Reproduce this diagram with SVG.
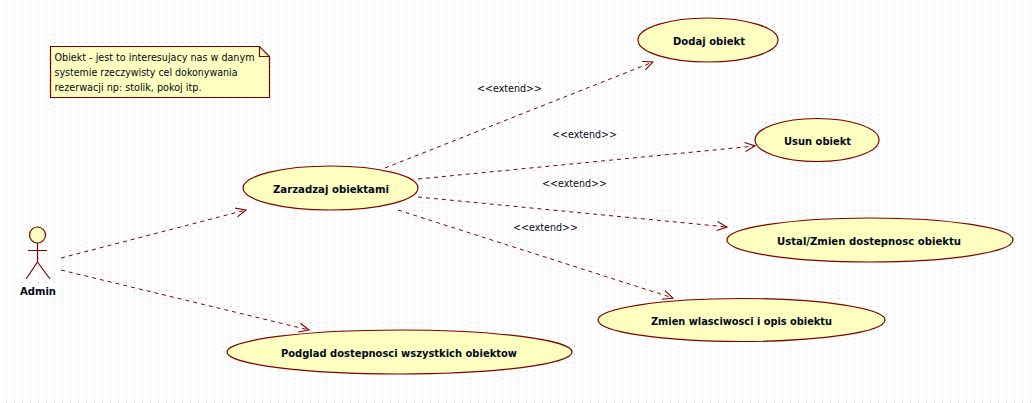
<svg xmlns="http://www.w3.org/2000/svg" width="1034" height="403" viewBox="0 0 1034 403">
<style>
.shape{fill:#ffffbf;stroke:#800000;stroke-width:1.2}
.ink{fill:none;stroke:#800000;stroke-width:1.2}
.dep{fill:none;stroke:#800000;stroke-width:1;stroke-dasharray:4 4;marker-end:url(#open)}
text{font-family:"DejaVu Sans","Noto Sans",sans-serif;fill:#000820}
.uc{font-size:11px;font-weight:700}
.plain{font-size:11px}
</style>
<defs>
<pattern id="dots" width="8" height="8" patternUnits="userSpaceOnUse"><rect x="6" y="2" width="1" height="1" fill="#c0c0c0"/></pattern>
<marker id="open" viewBox="-12 -6 13 12" refX="0" refY="0" markerWidth="13" markerHeight="12" markerUnits="userSpaceOnUse" orient="auto"><path d="M-10 -4.500L0 0L-10 4.500" fill="none" stroke="#800000" stroke-width="1.100"/></marker>
</defs>
<rect width="1034" height="403" fill="#fff"/>
<rect width="1034" height="403" fill="url(#dots)"/>
<g id="connectors">
<line class="dep" x1="61" y1="258" x2="246" y2="210"/>
<line class="dep" x1="61" y1="270" x2="309" y2="330"/>
<line class="dep" x1="385" y1="168" x2="653" y2="62"/>
<line class="dep" x1="418" y1="179" x2="755" y2="146"/>
<line class="dep" x1="418" y1="197" x2="727" y2="227"/>
<line class="dep" x1="398" y1="210" x2="673" y2="298"/>
</g>
<g id="note">
<path class="shape" d="M50.500 46.500H259.500L269.500 56.500V97.500H50.500Z"/>
<path class="ink" d="M259.500 46.500V56.500H269.500"/>
<text class="plain" x="54.500" y="61" textLength="200" lengthAdjust="spacingAndGlyphs">Obiekt - jest to interesujacy nas w danym</text>
<text class="plain" x="54.500" y="76" textLength="183" lengthAdjust="spacingAndGlyphs">systemie rzeczywisty cel dokonywania</text>
<text class="plain" x="54.500" y="91" textLength="147" lengthAdjust="spacingAndGlyphs">rezerwacji np: stolik, pokoj itp.</text>
</g>
<g id="actor-admin">
<circle class="shape" cx="37.500" cy="235" r="8"/>
<path class="ink" d="M28 250.500H47M37.500 243V262M37.500 262L26 279M37.500 262L50 279"/>
<text class="uc" x="20" y="295" textLength="36" lengthAdjust="spacingAndGlyphs">Admin</text>
</g>
<g id="uc-zarzadzaj">
<ellipse class="shape" cx="330.500" cy="188" rx="87.500" ry="22"/>
<text class="uc" x="273" y="193" textLength="116" lengthAdjust="spacingAndGlyphs">Zarzadzaj obiektami</text>
</g>
<g id="uc-podglad">
<ellipse class="shape" cx="399.500" cy="352" rx="172.500" ry="22"/>
<text class="uc" x="281" y="357" textLength="236" lengthAdjust="spacingAndGlyphs">Podglad dostepnosci wszystkich obiektow</text>
</g>
<g id="uc-dodaj">
<ellipse class="shape" cx="708" cy="40" rx="70" ry="22"/>
<text class="uc" x="673" y="45" textLength="72" lengthAdjust="spacingAndGlyphs">Dodaj obiekt</text>
</g>
<g id="uc-usun">
<ellipse class="shape" cx="817" cy="140" rx="62" ry="21.500"/>
<text class="uc" x="784" y="145" textLength="67" lengthAdjust="spacingAndGlyphs">Usun obiekt</text>
</g>
<g id="uc-ustal">
<ellipse class="shape" cx="870" cy="240" rx="143" ry="22"/>
<text class="uc" x="777" y="245" textLength="184" lengthAdjust="spacingAndGlyphs">Ustal/Zmien dostepnosc obiektu</text>
</g>
<g id="uc-zmien">
<ellipse class="shape" cx="741.500" cy="320" rx="143.500" ry="21.500"/>
<text class="uc" x="651" y="325" textLength="181" lengthAdjust="spacingAndGlyphs">Zmien wlasciwosci i opis obiektu</text>
</g>
<g id="labels">
<text class="plain" x="477" y="92" textLength="65" lengthAdjust="spacingAndGlyphs">&lt;&lt;extend&gt;&gt;</text>
<text class="plain" x="552" y="138" textLength="65" lengthAdjust="spacingAndGlyphs">&lt;&lt;extend&gt;&gt;</text>
<text class="plain" x="542" y="187" textLength="65" lengthAdjust="spacingAndGlyphs">&lt;&lt;extend&gt;&gt;</text>
<text class="plain" x="513" y="231" textLength="65" lengthAdjust="spacingAndGlyphs">&lt;&lt;extend&gt;&gt;</text>
</g>
</svg>
